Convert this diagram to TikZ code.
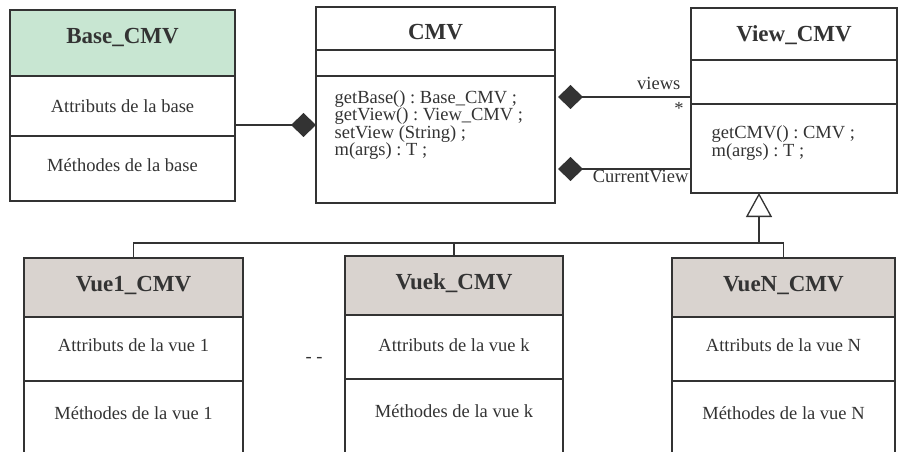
\documentclass[tikz,border=0pt]{standalone}
\usepackage{fontspec}
\setmainfont{Liberation Serif}
\usepackage{tikz}
\usetikzlibrary{arrows.meta,positioning}
\definecolor{cmvgreen}{HTML}{C8E6D2}
\definecolor{cmvgrey}{HTML}{D9D3CF}
\definecolor{cmvink}{HTML}{333333}
\newcommand{\cmvtitle}{\fontsize{23}{26}\selectfont\bfseries}
\newcommand{\cmvtext}{\fontsize{18.5}{17.2}\selectfont\frenchspacing}

\begin{document}
\begin{tikzpicture}[x=1pt, y=-1pt, color=cmvink, line width=1.3pt,
	head/.style={draw, outer sep=0pt, inner sep=0pt, text height=15.5pt, text depth=#1, font=\cmvtitle},
	head/.default=8pt,
	part/.style={draw, outer sep=0pt, inner sep=0pt, text height=12.5pt, text depth=#1, font=\cmvtext},
	part/.default=0pt,
	meth/.style={anchor=north west, align=left, inner sep=0pt, font=\cmvtext},
	agg/.style={{Diamond[length=25pt,width=24pt]}-},
	inherit/.style={-{Triangle[open,length=24pt,width=26pt,fill=white]}}]
	\path[use as bounding box, clip] (0,0) rectangle (898,452);
	\node[head=14pt, fill=cmvgreen, minimum width=225, minimum height=66] (basehead) at (122.5,43) {Base\_CMV};
	\node[part, minimum width=225, minimum height=60, below=0pt of basehead] (baseattr) {Attributs de la base};
	\node[part=7pt, minimum width=225, minimum height=65, below=0pt of baseattr] (basemeth) {Méthodes de la base};
	\node[head=0pt, text height=22.5pt, minimum width=239, minimum height=43] (cmvhead) at (435.5,28.5) {CMV};
	\node[part, minimum width=239, minimum height=26, below=0pt of cmvhead] (cmvattr) {};
	\node[part, minimum width=239, minimum height=127, below=0pt of cmvattr] (cmvmeth) {};
	\node[meth] (cmvops) at ([xshift=18pt, yshift=-14.2pt]cmvmeth.north west) {getBase() : Base\_CMV ;\\ getView() : View\_CMV ;\\ setView (String) ;\\ m(args) : T ;};
	\node[head=1pt, minimum width=206, minimum height=52] (viewhead) at (794,34) {View\_CMV};
	\node[part, minimum width=206, minimum height=44, below=0pt of viewhead] (viewattr) {};
	\node[part, minimum width=206, minimum height=89, below=0pt of viewattr] (viewmeth) {};
	\node[meth] (viewops) at ([xshift=20pt, yshift=-21.5pt]viewmeth.north west) {getCMV() : CMV ;\\ m(args) : T ;};
	\node[head, fill=cmvgrey, minimum width=219, minimum height=59] (vue1head) at (133.5,287.5) {Vue1\_CMV};
	\node[part=8pt, minimum width=219, minimum height=64, below=0pt of vue1head] (vue1attr) {Attributs de la vue 1};
	\node[part=15.5pt, minimum width=219, minimum height=80, below=0pt of vue1attr] (vue1meth) {Méthodes de la vue 1};
	\node[head, fill=cmvgrey, minimum width=218, minimum height=59] (vuekhead) at (454,285.5) {Vuek\_CMV};
	\node[part=4pt, minimum width=218, minimum height=64, below=0pt of vuekhead] (vuekattr) {Attributs de la vue k};
	\node[part=17pt, minimum width=218, minimum height=82, below=0pt of vuekattr] (vuekmeth) {Méthodes de la vue k};
	\node[head, fill=cmvgrey, minimum width=223, minimum height=59] (vueNhead) at (783.5,287.5) {VueN\_CMV};
	\node[part=8pt, minimum width=223, minimum height=64, below=0pt of vueNhead] (vueNattr) {Attributs de la vue N};
	\node[part=16pt, minimum width=223, minimum height=80, below=0pt of vueNattr] (vueNmeth) {Méthodes de la vue N};
	\node[font=\cmvtext] (etc) at (314,360) {- -};
	\coordinate (basejoin) at ([yshift=11pt]baseattr.south east);
	\coordinate (viewsjoin) at ([yshift=-21pt]cmvmeth.north east);
	\coordinate (curjoin) at ([yshift=34pt]cmvmeth.south east);
	\draw[agg] (basejoin -| cmvmeth.west) -- (basejoin);
	\draw[agg, shorten <=3pt] (viewsjoin) -- (viewsjoin -| viewattr.west)
		node[pos=1, anchor=south east, inner sep=0pt, xshift=-10pt, yshift=7pt, font=\cmvtext] (viewslbl) {views}
		node[pos=1, xshift=-12pt, yshift=-11pt, inner sep=0pt, font=\cmvtext] (viewsmult) {*};
	\draw[agg, shorten <=3pt] (curjoin) -- (curjoin -| viewmeth.west)
		node[pos=1, anchor=north east, inner sep=0pt, xshift=-2pt, yshift=-1pt, font=\cmvtext] (curlbl) {CurrentView};
	\draw (vue1head.north) -- ++(0,-15) coordinate (bus) -| (vueNhead.north);
	\draw (vuekhead.north) -- (vuekhead.north |- bus);
	\coordinate (gen) at ([xshift=-35pt]viewmeth.south);
	\draw[inherit] (gen |- bus) -- (gen);
\end{tikzpicture}
\end{document}
